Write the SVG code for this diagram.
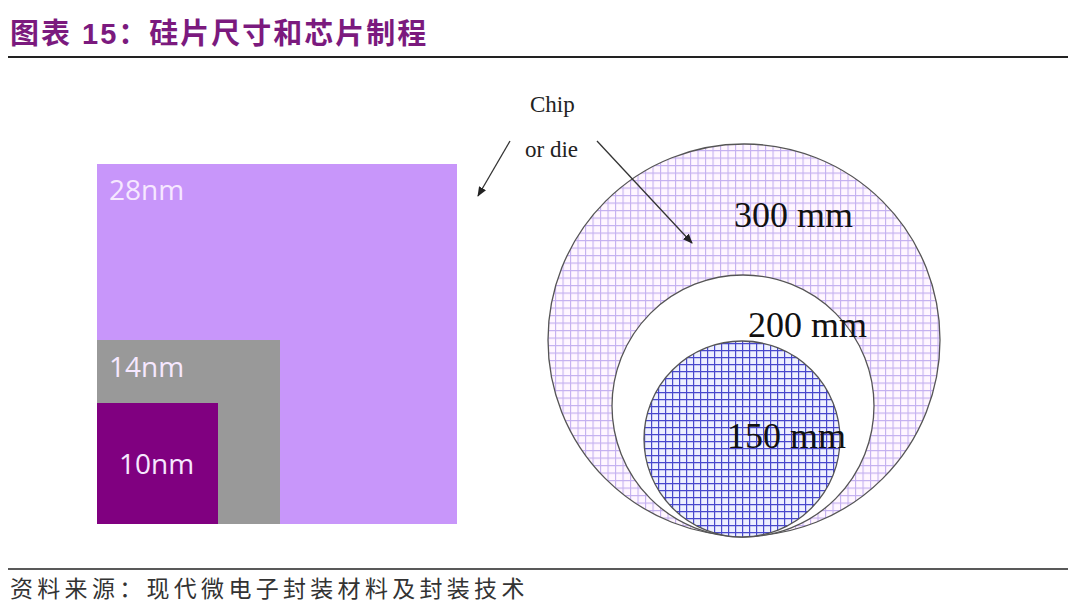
<svg xmlns="http://www.w3.org/2000/svg" width="1080" height="615" viewBox="0 0 1080 615">
<style>
.title{font-family:"Liberation Sans","Noto Sans CJK SC",sans-serif;font-weight:bold;font-size:29px;fill:#7b1a7e;letter-spacing:2px}
.src{font-family:"Liberation Serif","Noto Sans CJK SC",serif;font-size:23px;fill:#333;letter-spacing:4.3px}
.nm{font-family:"Open Sans","Liberation Sans",sans-serif;font-size:28px;fill:#f6e8ff}
.mm{font-family:"Liberation Serif",serif;font-size:36px;fill:#111}
.chip{font-family:"Liberation Serif",serif;font-size:23px;fill:#222}
.conn{stroke:#333;stroke-width:1.3;fill:none;marker-end:url(#ah)}
.ring{stroke:#555;stroke-width:1.3}
</style>
<defs>
<pattern id="gridP" width="7.5" height="7.5" patternUnits="userSpaceOnUse">
<rect width="7.5" height="7.5" fill="#fff6ff"/>
<path d="M0 0.5H7.5M0.5 0V7.5" stroke="#c4b0f0" stroke-width="1.2"/>
</pattern>
<pattern id="gridB" width="7" height="7" patternUnits="userSpaceOnUse">
<rect width="7" height="7" fill="#eef0ff"/>
<path d="M0 0.5H7M0.5 0V7" stroke="#4848cc" stroke-width="1.4"/>
</pattern>
<marker id="ah" markerWidth="10" markerHeight="8" refX="9" refY="4" orient="auto" markerUnits="userSpaceOnUse">
<path d="M0 0L10 4L0 8Z" fill="#222"/>
</marker>
</defs>
<rect width="1080" height="615" fill="#fff"/>
<g id="title"><text class="title" x="10" y="44">图表 15：硅片尺寸和芯片制程</text></g>
<line x1="8" y1="57" x2="1068" y2="57" stroke="#222" stroke-width="2"/>
<g id="n28"><rect x="97" y="164" width="360" height="360" fill="#c896fa"/><text class="nm" x="109" y="200">28nm</text></g>
<g id="n14"><rect x="97" y="340" width="183" height="184" fill="#999999"/><text class="nm" x="109" y="377">14nm</text></g>
<g id="n10"><rect x="97" y="403" width="121" height="121" fill="#800080"/><text class="nm" x="119" y="474">10nm</text></g>
<g id="w300"><circle class="ring" cx="744" cy="340" r="196" fill="url(#gridP)"/><text class="mm" x="734" y="227">300 mm</text></g>
<g id="w200"><circle class="ring" cx="743" cy="406" r="131" fill="#fff"/><text class="mm" x="748" y="337">200 mm</text></g>
<g id="w150"><circle class="ring" cx="742" cy="439" r="98" fill="url(#gridB)"/><text class="mm" x="727" y="448">150 mm</text></g>
<g id="chip"><text class="chip" x="530" y="112">Chip</text><text class="chip" x="525" y="157">or die</text></g>
<g id="connectors">
<line class="conn" x1="510" y1="141" x2="478" y2="196"/>
<line class="conn" x1="597" y1="141" x2="692" y2="243"/>
</g>
<line x1="8" y1="569" x2="1068" y2="569" stroke="#222" stroke-width="1.5"/>
<g id="source"><text class="src" x="10" y="597">资料来源：现代微电子封装材料及封装技术</text></g>
</svg>
